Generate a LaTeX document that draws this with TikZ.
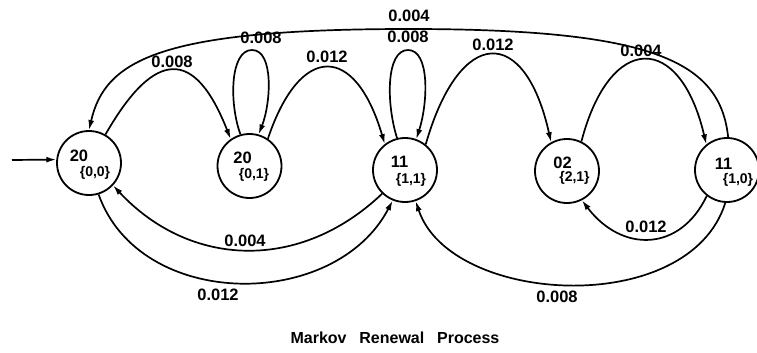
\documentclass[tikz,border=0pt]{standalone}
\usepackage{fontspec}
\setmainfont{Liberation Sans}
\usetikzlibrary{arrows.meta,calc}
\begin{document}
\begin{tikzpicture}[x=1pt,y=-1pt,
  st/.style={circle,draw,line width=1.8pt,minimum size=64pt,inner sep=0pt},
  edge/.style={line width=1.7pt,-{Latex[length=10pt,width=6pt]}},
  lbl/.style={font=\bfseries\fontsize{16.5}{16.5}\selectfont,inner sep=0pt},
  bigtxt/.style={font=\bfseries\fontsize{16.5}{16.5}\selectfont,inner sep=0pt},
  subtxt/.style={font=\bfseries\fontsize{14}{14}\selectfont,inner sep=0pt},
  ttl/.style={font=\bfseries\fontsize{16}{16}\selectfont,inner sep=0pt}]
\useasboundingbox (0,0) rectangle (757,353);
\fill[white] (0,0) rectangle (757,353);

% states
\node[st] (A) at (89,163) {};
\node[st] (B) at (249.5,166) {};
\node[st] (C) at (405,170) {};
\node[st] (D) at (567,171) {};
\node[st] (E) at (727,170) {};

\node[bigtxt] (At) at ($(A)+(-10,-7)$) {20};
\node[subtxt] (As) at ($(A)+(6,10)$) {\{0,0\}};
\node[bigtxt] (Bt) at ($(B)+(-7,-8.5)$) {20};
\node[subtxt] (Bs) at ($(B)+(4.5,8.5)$) {\{0,1\}};
\node[bigtxt] (Ct) at ($(C)+(-5.5,-8.5)$) {11};
\node[subtxt] (Cs) at ($(C)+(6,9.5)$) {\{1,1\}};
\node[bigtxt] (Dt) at ($(D)+(-4.5,-8.5)$) {02};
\node[subtxt] (Ds) at ($(D)+(7.5,7)$) {\{2,1\}};
\node[bigtxt] (Et) at ($(E)+(-3.5,-6.5)$) {11};
\node[subtxt] (Es) at ($(E)+(11,10)$) {\{1,0\}};

% initial arrow
\coordinate (start) at (12,160);
\draw[edge] (start) -- (A.174);

% upper arcs
\draw[edge] (A.60) .. controls (155,48) and (195,48) .. (B.125);
\coordinate (ltB) at (252,50);
\draw[edge] (B.106) .. controls (229,103) and (230,50) .. (ltB) .. controls (274,50) and (271,103) .. (B.74);
\draw[edge] (B.56) .. controls (300,43) and (355,43) .. (C.128);
\coordinate (ltC) at (408,50);
\draw[edge] (C.104) .. controls (386,103) and (386,50) .. (ltC) .. controls (430,50) and (428,103) .. (C.70);
\draw[edge] (C.51) .. controls (460,25) and (525,25) .. (D.119);
\draw[edge] (D.64) .. controls (610,32) and (680,32) .. (E.129);
\coordinate (top) at (409,29);
\draw[edge] (E.88) .. controls (720,62) and (655,29) .. (top) .. controls (160,29) and (105,60) .. (A.90);

% lower arcs
\draw[edge] (C.226) .. controls (300,272) and (190,268) .. (A.317);
\draw[edge] (A.287) .. controls (140,311) and (335,311) .. (C.248);
\draw[edge] (E.232) .. controls (680,252) and (622,253) .. (D.297);
\draw[edge] (E.267) .. controls (689,319) and (450,305) .. (C.289);

% labels
\node[lbl] (l1) at (409,16) {0.004};
\node[lbl] (l2) at (172,62) {0.008};
\node[lbl] (l3) at (261,38) {0.008};
\node[lbl] (l4) at (327,57) {0.012};
\node[lbl] (l5) at (408,37) {0.008};
\node[lbl] (l6) at (493,45) {0.012};
\node[lbl] (l7) at (641,51) {0.004};
\node[lbl] (l8) at (245,241) {0.004};
\node[lbl] (l9) at (218,295) {0.012};
\node[lbl] (l10) at (646,227) {0.012};
\node[lbl] (l11) at (557,297) {0.008};
\node[ttl] (title) at (395,338) {Markov\hspace{0.8em}Renewal\hspace{0.8em}Process};
\end{tikzpicture}
\end{document}
